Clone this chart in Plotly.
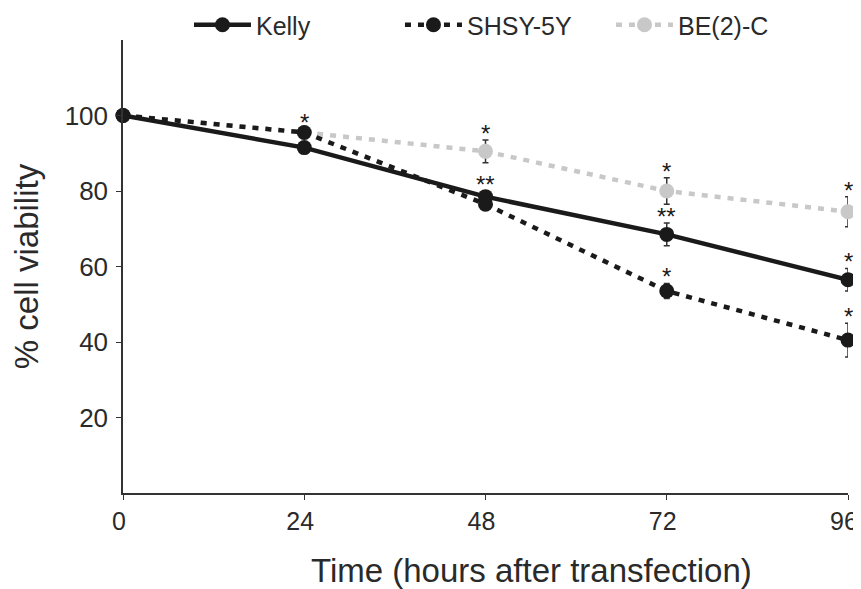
import plotly.graph_objects as go

# time points (hours after transfection)
hours = [0, 24, 48, 72, 96]

# % cell viability, mean and error per cell line
kelly = [100, 91.5, 78.5, 68.5, 56.5]
kelly_err = [0, 1.0, 1.5, 3.0, 3.0]
shsy = [100, 95.5, 76.5, 53.5, 40.5]
shsy_err = [0, 1.0, 1.5, 2.0, 4.5]
be2c = [100, 95.5, 90.5, 80.0, 74.5]
be2c_err = [0, 1.5, 3.0, 3.5, 4.0]

# significance marks shown above each point
kelly_sig = ["", "", "**", "**", "*"]
shsy_sig = ["", "*", "", "*", "*"]
be2c_sig = ["", "", "*", "*", "*"]

FONT = "Liberation Sans, Arial, sans-serif"
TXT = "#2a2a2a"

series = [
    ("Kelly", kelly, kelly_err, kelly_sig, "#1a1a1a", "solid"),
    ("SHSY-5Y", shsy, shsy_err, shsy_sig, "#1a1a1a", "6px,7px"),
    ("BE(2)-C", be2c, be2c_err, be2c_sig, "#c8c8c8", "6px,7px"),
]

fig = go.Figure()
# draw the gray one first so black lines sit on top
for name, y, err, sig, color, dash in reversed(series):
    fig.add_trace(
        go.Scatter(
            x=hours,
            y=y,
            name=name,
            mode="lines+markers",
            line=dict(color=color, width=4.5, dash=dash),
            marker=dict(color=color, size=15),
            error_y=dict(type="data", array=err, color="#333333", thickness=1.5, width=3),
            cliponaxis=False,
        )
    )
    for xi, yi, ei, s in zip(hours, y, err, sig):
        if s:
            fig.add_annotation(
                x=xi, y=yi + ei, text=s, showarrow=False,
                yanchor="bottom", yshift=-9,
                font=dict(family=FONT, size=24, color="#1a1a1a"),
            )

# x title sits a bit right of centre in the original
fig.add_annotation(
    text="Time (hours after transfection)", xref="paper", yref="paper",
    x=0.564, y=-0.17, xanchor="center", yanchor="middle", showarrow=False,
    font=dict(family=FONT, size=33, color=TXT),
)

# page body adds an 8px offset, so the figure is 8px smaller than the window
fig.update_layout(
    width=853,
    height=581,
    paper_bgcolor="white",
    plot_bgcolor="white",
    font=dict(family=FONT, color=TXT),
    margin=dict(l=115, r=13, t=32, b=96, autoexpand=False),
    legend=dict(
        orientation="h",
        traceorder="reversed",
        x=0.091,
        y=1.033,
        xanchor="left",
        yanchor="middle",
        entrywidth=139,
        itemwidth=57,
        font=dict(family=FONT, size=25, color=TXT),
    ),
    showlegend=True,
)
fig.update_xaxes(
    range=[0, 96],
    tickvals=hours,
    ticks="outside",
    ticklen=5,
    tickcolor="#333333",
    showline=True,
    linecolor="#333333",
    linewidth=1.5,
    showgrid=False,
    zeroline=False,
    automargin=False,
    ticklabeloverflow="allow",
    ticklabelshift=-4,
    tickfont=dict(family=FONT, size=25, color=TXT),
)
fig.update_yaxes(
    range=[0, 120],
    tickvals=[20, 40, 60, 80, 100],
    ticks="outside",
    ticklen=5,
    tickcolor="#333333",
    showline=True,
    linecolor="#333333",
    linewidth=1.5,
    showgrid=False,
    zeroline=False,
    automargin=False,
    ticklabelstandoff=3,
    tickfont=dict(family=FONT, size=26, color=TXT),
    title=dict(text="% cell viability", font=dict(family=FONT, size=33, color=TXT), standoff=16),
)

fig.write_html("out.html")
